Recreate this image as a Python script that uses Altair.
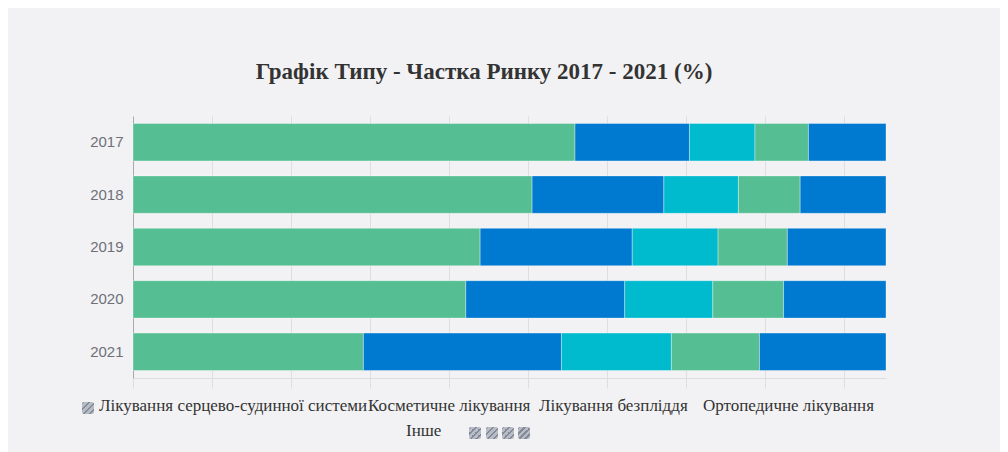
import altair as alt
import pandas as pd

years = ["2017", "2018", "2019", "2020", "2021"]
series = [
    "Лікування серцево-судинної системи",
    "Косметичне лікування",
    "Лікування безпліддя",
    "Ортопедичне лікування",
    "Інше",
]
cardio = [58.7, 53.0, 46.1, 44.2, 30.6]
cosmetic = [15.2, 17.5, 20.2, 21.1, 26.3]
fertility = [8.7, 9.9, 11.4, 11.7, 14.6]
ortho = [7.1, 8.2, 9.2, 9.4, 11.7]
other = [10.3, 11.4, 13.1, 13.6, 16.8]
colors = ["#55BE93", "#0079D0", "#00BACE", "#55BE93", "#0079D0"]
title_text = "Графік Типу - Частка Ринку 2017 - 2021 (%)"
grid_values = [round(k * 10.4914, 3) for k in range(10)]

values = [cardio, cosmetic, fertility, ortho, other]
rows = []
for si, (name, vals) in enumerate(zip(series, values)):
    for yi, y in enumerate(years):
        rows.append({"year": y, "series": name, "value": vals[yi], "idx": si})
df = pd.DataFrame(rows)

PW, PH = 753, 262

bars = alt.Chart(df).mark_bar(
    stroke="#ffffff", strokeOpacity=0.35, strokeWidth=1
).encode(
    x=alt.X(
        "value:Q",
        stack="zero",
        scale=alt.Scale(domain=[0, 100], nice=False),
        axis=alt.Axis(
            values=grid_values, labels=False, title=None,
            grid=True, gridColor="#dedede", gridWidth=1,
            ticks=True, tickSize=10, tickColor="#dedede",
            domain=True, domainColor="#dedede",
        ),
    ),
    y=alt.Y(
        "year:N",
        sort=years,
        scale=alt.Scale(paddingInner=0.286, paddingOuter=0.143),
        axis=alt.Axis(
            title=None, ticks=False, domainColor="#aaaaaa",
            labelFont="Liberation Sans", labelFontSize=15,
            labelColor="#6e7079", labelPadding=10, grid=False,
        ),
    ),
    color=alt.Color(
        "series:N",
        scale=alt.Scale(domain=series, range=colors),
        legend=None,
    ),
    order=alt.Order("idx:Q", sort="ascending"),
)

one = pd.DataFrame({"a": [0]})
layers = [bars]

layers.append(
    alt.Chart(one).mark_text(
        text=title_text, font="Liberation Serif", fontWeight="bold",
        fontSize=23, color="#333333", align="center", baseline="alphabetic",
    ).encode(x=alt.value(351), y=alt.value(-37))
)

# legend labels (layout positions relative to plot origin)
legend_pos = [(-34, 295), (235, 295), (406, 295), (570, 295), (273, 320)]
for name, (lx, ly) in zip(series, legend_pos):
    layers.append(
        alt.Chart(one).mark_text(
            text=name, font="Liberation Serif", fontSize=17,
            color="#333333", align="left", baseline="alphabetic",
        ).encode(x=alt.value(lx), y=alt.value(ly))
    )

hatch = {
    "gradient": "linear", "x1": 0, "y1": 0, "x2": 1, "y2": 1,
    "stops": [
        {"offset": 0.0, "color": "#848b98"},
        {"offset": 0.12, "color": "#848b98"},
        {"offset": 0.12, "color": "#b7bcc6"},
        {"offset": 0.25, "color": "#b7bcc6"},
        {"offset": 0.25, "color": "#848b98"},
        {"offset": 0.37, "color": "#848b98"},
        {"offset": 0.37, "color": "#b7bcc6"},
        {"offset": 0.5, "color": "#b7bcc6"},
        {"offset": 0.5, "color": "#848b98"},
        {"offset": 0.62, "color": "#848b98"},
        {"offset": 0.62, "color": "#b7bcc6"},
        {"offset": 0.75, "color": "#b7bcc6"},
        {"offset": 0.75, "color": "#848b98"},
        {"offset": 0.87, "color": "#848b98"},
        {"offset": 0.87, "color": "#b7bcc6"},
        {"offset": 1.0, "color": "#b7bcc6"},
    ],
}
icon_pos = [(-51, 286), (336, 311), (353, 311), (369, 311), (385, 311)]
for ix, iy in icon_pos:
    layers.append(
        alt.Chart(one).mark_rect(color=hatch, cornerRadius=2).encode(
            x=alt.value(ix), x2=alt.value(ix + 12),
            y=alt.value(iy), y2=alt.value(iy + 12),
        )
    )

chart = alt.layer(*layers).properties(
    width=PW, height=PH,
    background="#f2f2f4",
    autosize=alt.AutoSizeParams(type="none"),
    padding={"left": 125, "top": 108, "right": 114, "bottom": 74},
).configure_view(stroke=None)

chart.save("out.html", embed_options={"renderer": "svg", "actions": False})
